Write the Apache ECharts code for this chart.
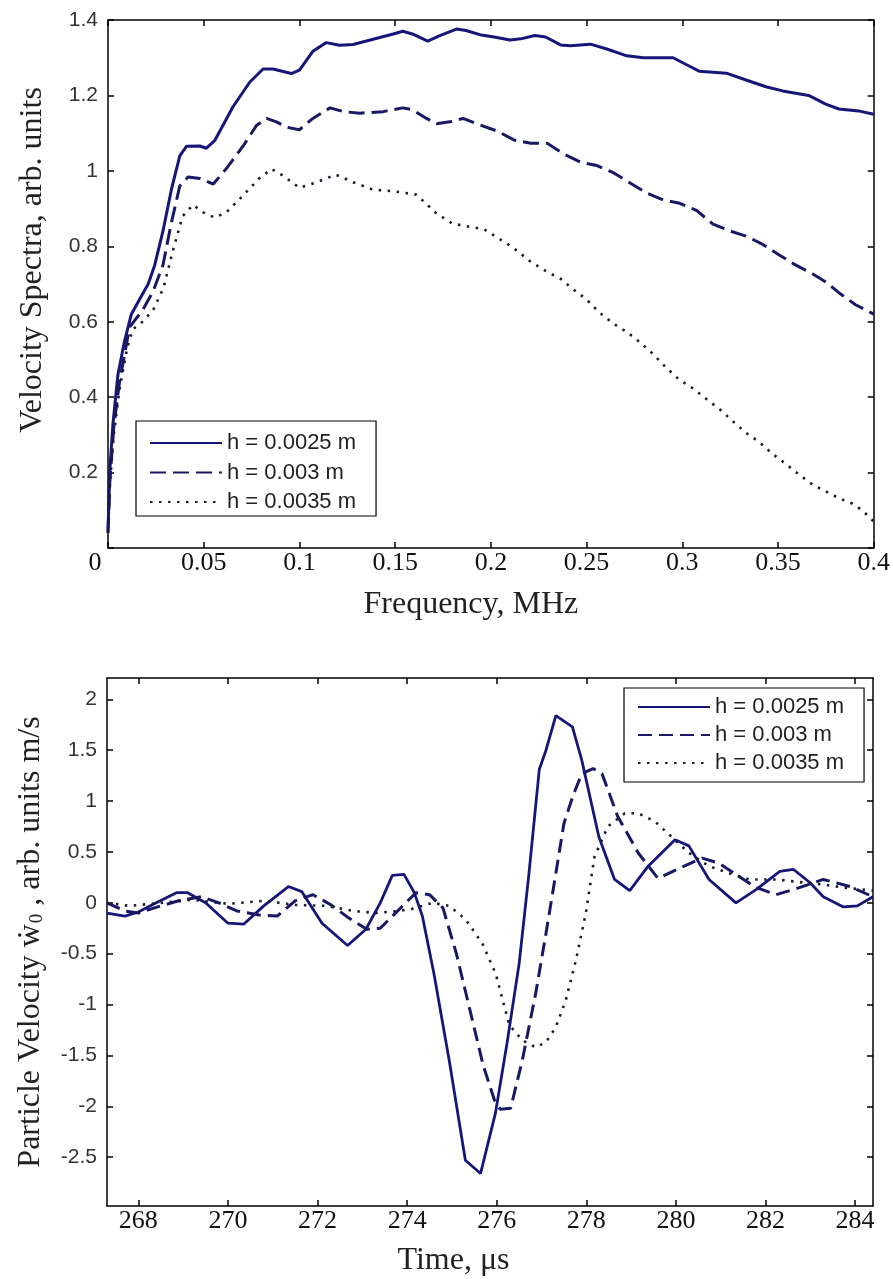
<!DOCTYPE html>
<html>
<head>
<meta charset="utf-8">
<script src="https://cdn.jsdelivr.net/npm/echarts@6/dist/echarts.min.js"></script>
<style>
html,body{margin:0;padding:0;background:#fff;}
#c{width:893px;height:1279px;}
</style>
</head>
<body>
<div id="c"></div>
<script>
// ---------- Top chart: velocity spectra ----------
const legendNames = ['h = 0.0025 m', 'h = 0.003 m', 'h = 0.0035 m'];

const freq25 = [0,0.001,0.0026,0.0052,0.0087,0.0122,0.0166,0.021,0.0244,0.0287,0.0331,0.0375,0.041,0.048,0.0514,0.0557,0.0653,0.074,0.081,0.0862,0.0958,0.1,0.107,0.114,0.121,0.128,0.1385,0.149,0.154,0.159,0.167,0.173,0.182,0.187,0.195,0.2017,0.21,0.2156,0.223,0.2286,0.2364,0.2416,0.252,0.2606,0.271,0.2797,0.2952,0.302,0.309,0.323,0.3333,0.3437,0.3524,0.366,0.3749,0.3818,0.392,0.4];
const spec25 = [0.047,0.21,0.33,0.46,0.55,0.62,0.66,0.70,0.75,0.84,0.95,1.04,1.065,1.066,1.06,1.08,1.17,1.235,1.27,1.27,1.258,1.267,1.317,1.34,1.333,1.335,1.349,1.363,1.37,1.363,1.344,1.358,1.376,1.372,1.36,1.355,1.347,1.35,1.359,1.355,1.334,1.332,1.336,1.323,1.305,1.3,1.3,1.282,1.264,1.259,1.241,1.223,1.212,1.2,1.177,1.164,1.159,1.15];

const freq30 = [0,0.001,0.003,0.006,0.0113,0.018,0.0235,0.0287,0.033,0.0375,0.0418,0.048,0.055,0.0618,0.0706,0.0775,0.0828,0.088,0.0932,0.1,0.107,0.116,0.123,0.1315,0.1437,0.154,0.159,0.1664,0.1716,0.1786,0.1855,0.1925,0.2035,0.212,0.2208,0.2294,0.238,0.2468,0.2554,0.264,0.2727,0.2814,0.29,0.2987,0.3074,0.316,0.3247,0.3333,0.342,0.3506,0.3593,0.368,0.375,0.3818,0.3905,0.4];
const spec30 = [0.04,0.18,0.32,0.44,0.586,0.63,0.68,0.75,0.86,0.96,0.984,0.98,0.965,1.006,1.066,1.12,1.139,1.13,1.116,1.109,1.139,1.167,1.157,1.153,1.157,1.167,1.162,1.139,1.125,1.13,1.139,1.125,1.105,1.082,1.073,1.073,1.045,1.023,1.014,0.995,0.968,0.941,0.923,0.914,0.895,0.859,0.841,0.827,0.805,0.777,0.75,0.727,0.705,0.677,0.645,0.62];

const freq35 = [0,0.001,0.003,0.006,0.01,0.013,0.018,0.0235,0.029,0.034,0.039,0.0444,0.0497,0.0557,0.0618,0.0706,0.079,0.0854,0.0915,0.1,0.109,0.119,0.128,0.1385,0.149,0.161,0.166,0.1716,0.18,0.1908,0.1965,0.205,0.212,0.2208,0.2294,0.2364,0.243,0.25,0.257,0.264,0.271,0.278,0.2848,0.2918,0.2987,0.3056,0.3126,0.3195,0.3264,0.3333,0.34,0.347,0.354,0.361,0.368,0.375,0.3818,0.3887,0.394,0.4];
const spec35 = [0.04,0.17,0.3,0.42,0.53,0.58,0.6,0.63,0.69,0.79,0.88,0.91,0.89,0.876,0.89,0.935,0.98,1.005,0.987,0.955,0.97,0.99,0.97,0.95,0.946,0.937,0.914,0.887,0.86,0.85,0.845,0.818,0.795,0.759,0.732,0.714,0.686,0.659,0.623,0.595,0.573,0.545,0.514,0.477,0.445,0.423,0.395,0.368,0.336,0.305,0.282,0.25,0.223,0.195,0.168,0.15,0.132,0.118,0.1,0.07];

// ---------- Bottom chart: particle velocity ----------
const time25 = [267.3,267.7,268.0,268.4,268.85,269.1,269.5,270.0,270.35,270.8,271.35,271.65,272.1,272.67,273.08,273.4,273.67,273.93,274.16,274.34,274.6,274.94,275.3,275.64,275.97,276.23,276.5,276.72,276.95,277.1,277.32,277.69,277.9,278.28,278.63,278.97,279.38,279.98,280.29,280.74,281.34,281.79,282.32,282.62,282.99,283.29,283.74,284.05,284.4];
const vel25 = [-0.1,-0.13,-0.09,0.0,0.1,0.1,0.0,-0.2,-0.21,-0.03,0.16,0.11,-0.2,-0.42,-0.26,0.0,0.27,0.28,0.1,-0.13,-0.7,-1.55,-2.53,-2.66,-2.07,-1.38,-0.6,0.29,1.31,1.5,1.84,1.73,1.4,0.65,0.23,0.12,0.36,0.62,0.56,0.23,0.0,0.13,0.31,0.33,0.2,0.06,-0.04,-0.03,0.06];

const time30 = [267.3,267.7,268.0,268.5,268.9,269.4,269.8,270.2,270.7,271.1,271.5,271.9,272.3,272.7,273.1,273.4,273.9,274.2,274.5,274.8,275.1,275.4,275.7,275.95,276.08,276.31,276.57,276.87,277.1,277.32,277.5,277.7,277.9,278.15,278.35,278.7,279.16,279.6,279.98,280.59,280.96,281.41,281.79,282.24,282.69,283.29,283.89,284.4];
const vel30 = [0.0,-0.08,-0.1,-0.03,0.02,0.06,0.0,-0.08,-0.12,-0.13,0.02,0.08,-0.02,-0.15,-0.26,-0.25,-0.03,0.1,0.08,-0.05,-0.5,-1.05,-1.6,-1.94,-2.03,-2.02,-1.55,-0.89,-0.3,0.29,0.78,1.05,1.27,1.32,1.27,0.85,0.49,0.24,0.32,0.44,0.39,0.26,0.15,0.08,0.14,0.23,0.16,0.06];

const time35 = [267.3,267.8,268.5,269.2,270.0,270.8,271.5,272.2,272.8,273.3,273.8,274.1,274.57,274.94,275.3,275.68,275.98,276.28,276.57,276.87,277.1,277.32,277.54,277.77,277.99,278.18,278.48,278.86,279.16,279.53,279.9,280.29,280.74,281.19,281.64,282.24,282.84,283.29,283.74,284.4];
const vel35 = [0.0,-0.03,0.0,0.03,-0.01,0.02,-0.02,-0.03,-0.08,-0.1,-0.08,-0.06,0.0,-0.03,-0.16,-0.4,-0.7,-1.2,-1.35,-1.42,-1.37,-1.22,-0.96,-0.56,-0.1,0.45,0.75,0.88,0.88,0.8,0.65,0.49,0.36,0.29,0.23,0.23,0.2,0.18,0.15,0.12];

const timeTicks = [268,270,272,274,276,278,280,282,284];
const velTicks = [-2.5,-2,-1.5,-1,-0.5,0,0.5,1,1.5,2];

const zip = (xs, ys) => xs.map((x, i) => [x, ys[i]]);

const SERIF = '"Liberation Serif","Times New Roman",serif';
const SANS = '"Liberation Sans",Arial,sans-serif';
const AX = '#000';
const C25 = '#16167a', C30 = '#181864', C35 = '#1c1c30';
const TITLE = 32;

function xLabelStyle(extra) {
  return Object.assign({color: '#111', fontFamily: SERIF, fontSize: 26, margin: 2}, extra || {});
}
function yLabelStyle(extra) {
  return Object.assign({color: '#333', fontFamily: SANS, fontSize: 21, margin: 10}, extra || {});
}
const tickIn = {show: true, inside: true, length: 6, lineStyle: {color: AX, width: 1.5}};
const axLine = {show: true, onZero: false, lineStyle: {color: AX, width: 1.5}};

const chart = echarts.init(document.getElementById('c'), null, {renderer: 'canvas'});

const lineSeries = (name, data, xi, yi, color, type, width) => ({
  name, type: 'line', data, xAxisIndex: xi, yAxisIndex: yi,
  showSymbol: false, symbol: 'none', smooth: false, silent: true,
  lineStyle: {color, width, type},
  itemStyle: {color},
  animation: false
});

const legendBase = {
  orient: 'vertical',
  itemWidth: 72, itemHeight: 14,
  borderColor: '#000', borderWidth: 1.2,
  backgroundColor: '#fff',
  itemStyle: {opacity: 0},
  textStyle: {fontFamily: SANS, fontSize: 22, color: '#222', lineHeight: 22},
  selectedMode: false
};

const option = {
  backgroundColor: '#fff',
  animation: false,
  grid: [
    {left: 108, right: 18, top: 20, height: 528},
    {left: 107, right: 20, top: 678, height: 528}
  ],
  legend: [
    Object.assign({}, legendBase, {
      data: legendNames.map(n => ({name: n})),
      left: 136, top: 421, itemGap: 7.5,
      padding: [11, 20, 3, 13]
    }),
    Object.assign({}, legendBase, {
      data: legendNames.map(n => ({name: n + ' '})),
      formatter: n => n.trim(),
      left: 624, top: 688, itemGap: 6,
      padding: [8, 20, 8, 13]
    })
  ],
  xAxis: [
    {
      gridIndex: 0, type: 'value', min: 0, max: 0.4, interval: 0.05, position: 'bottom',
      axisLine: axLine, axisTick: tickIn, splitLine: {show: false},
      axisLabel: xLabelStyle({
        formatter: v => v === 0 ? '{z|0}' : String(+v.toFixed(3)),
        rich: {z: {fontFamily: SERIF, fontSize: 26, color: '#111', padding: [0, 26, 0, 0]}}
      }),
      name: 'Frequency, MHz', nameLocation: 'middle', nameGap: 41,
      nameTextStyle: {fontFamily: SERIF, fontSize: TITLE, color: '#222', padding: [0, 40, 0, 0]}
    },
    {
      gridIndex: 0, type: 'value', min: 0, max: 0.4, interval: 0.05, position: 'top',
      axisLine: axLine, axisTick: tickIn, axisLabel: {show: false}, splitLine: {show: false}
    },
    {
      gridIndex: 1, type: 'value', min: 267.3, max: 284.4, position: 'bottom',
      axisLine: axLine,
      axisTick: Object.assign({}, tickIn, {customValues: timeTicks}),
      axisLabel: xLabelStyle({customValues: timeTicks, formatter: v => String(v)}),
      splitLine: {show: false},
      name: 'Time, μs', nameLocation: 'middle', nameGap: 39,
      nameTextStyle: {fontFamily: SERIF, fontSize: TITLE, color: '#222', padding: [0, 73, 0, 0]}
    },
    {
      gridIndex: 1, type: 'value', min: 267.3, max: 284.4, position: 'top',
      axisLine: axLine,
      axisTick: Object.assign({}, tickIn, {customValues: timeTicks}),
      axisLabel: {show: false}, splitLine: {show: false}
    }
  ],
  yAxis: [
    {
      gridIndex: 0, type: 'value', min: 0, max: 1.4, interval: 0.2, position: 'left',
      axisLine: axLine, axisTick: tickIn, splitLine: {show: false},
      axisLabel: yLabelStyle({formatter: v => v === 0 ? '' : String(+v.toFixed(2))}),
      name: 'Velocity Spectra, arb. units', nameLocation: 'middle', nameGap: 59,
      nameTextStyle: {fontFamily: SERIF, fontSize: TITLE, color: '#222', padding: [0, 0, 0, 48]}
    },
    {
      gridIndex: 0, type: 'value', min: 0, max: 1.4, interval: 0.2, position: 'right',
      axisLine: axLine, axisTick: tickIn, axisLabel: {show: false}, splitLine: {show: false}
    },
    {
      gridIndex: 1, type: 'value', min: -2.98, max: 2.21, position: 'left',
      axisLine: axLine,
      axisTick: Object.assign({}, tickIn, {customValues: velTicks}),
      axisLabel: yLabelStyle({customValues: velTicks, formatter: v => String(v)}),
      splitLine: {show: false},
      name: '{a|Particle Velocity }{w|ẇ}{s|0}{a| , arb. units m/s}',
      nameLocation: 'middle', nameGap: 60,
      nameTextStyle: {
        fontFamily: SERIF, fontSize: TITLE, color: '#222',
        rich: {
          a: {fontFamily: SERIF, fontSize: TITLE, color: '#222'},
          w: {fontFamily: SERIF, fontSize: TITLE, color: '#222'},
          s: {fontFamily: SERIF, fontSize: 19, color: '#222', verticalAlign: 'bottom', padding: [14, 0, 0, 1]}
        }
      }
    },
    {
      gridIndex: 1, type: 'value', min: -2.98, max: 2.21, position: 'right',
      axisLine: axLine,
      axisTick: Object.assign({}, tickIn, {customValues: velTicks}),
      axisLabel: {show: false}, splitLine: {show: false}
    }
  ],
  series: [
    lineSeries(legendNames[0], zip(freq25, spec25), 0, 0, C25, 'solid', 3),
    lineSeries(legendNames[1], zip(freq30, spec30), 0, 0, C30, [16, 7], 3),
    lineSeries(legendNames[2], zip(freq35, spec35), 0, 0, C35, [2.5, 6.5], 2.6),
    lineSeries(legendNames[0] + ' ', zip(time25, vel25), 2, 2, C25, 'solid', 2.8),
    lineSeries(legendNames[1] + ' ', zip(time30, vel30), 2, 2, C30, [14, 7], 3),
    lineSeries(legendNames[2] + ' ', zip(time35, vel35), 2, 2, C35, [2.5, 6.5], 2.6)
  ]
};

chart.setOption(option);
</script>
</body>
</html>
